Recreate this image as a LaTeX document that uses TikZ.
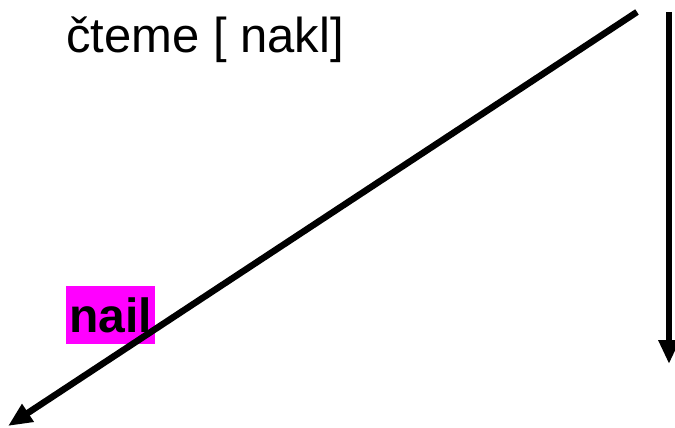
\documentclass[tikz,border=0pt]{standalone}
\usepackage{fontspec}
\setmainfont{Liberation Sans}
\usetikzlibrary{arrows.meta,positioning}
\definecolor{hilite}{RGB}{255,0,255}

\begin{document}
\begin{tikzpicture}[
  x=1pt, y=-1pt,
  label/.style={inner sep=0pt, font=\fontsize{49}{58}\selectfont},
  mark box/.style={fill=hilite, inner sep=0pt, minimum width=89pt, minimum height=58pt,
    font=\fontsize{48}{58}\selectfont\bfseries},
  flow/.style={-{Triangle[length=24pt, width=20pt]}, line width=6.5pt}
]
\useasboundingbox (0,0) rectangle (675,428);
\node[label, anchor=base west] (reading) at (66,53) {čteme [ nakl]};
\node[mark box] (word) at (110.5,315) {nail};
\coordinate (diagfrom) at (637,12);
\coordinate (diagto) at (8,426);
\coordinate (downfrom) at (669,12);
\coordinate (downto) at (669,364);
\draw[flow] (diagfrom) -- (diagto);
\draw[flow] (downfrom) -- (downto);
\end{tikzpicture}
\end{document}
